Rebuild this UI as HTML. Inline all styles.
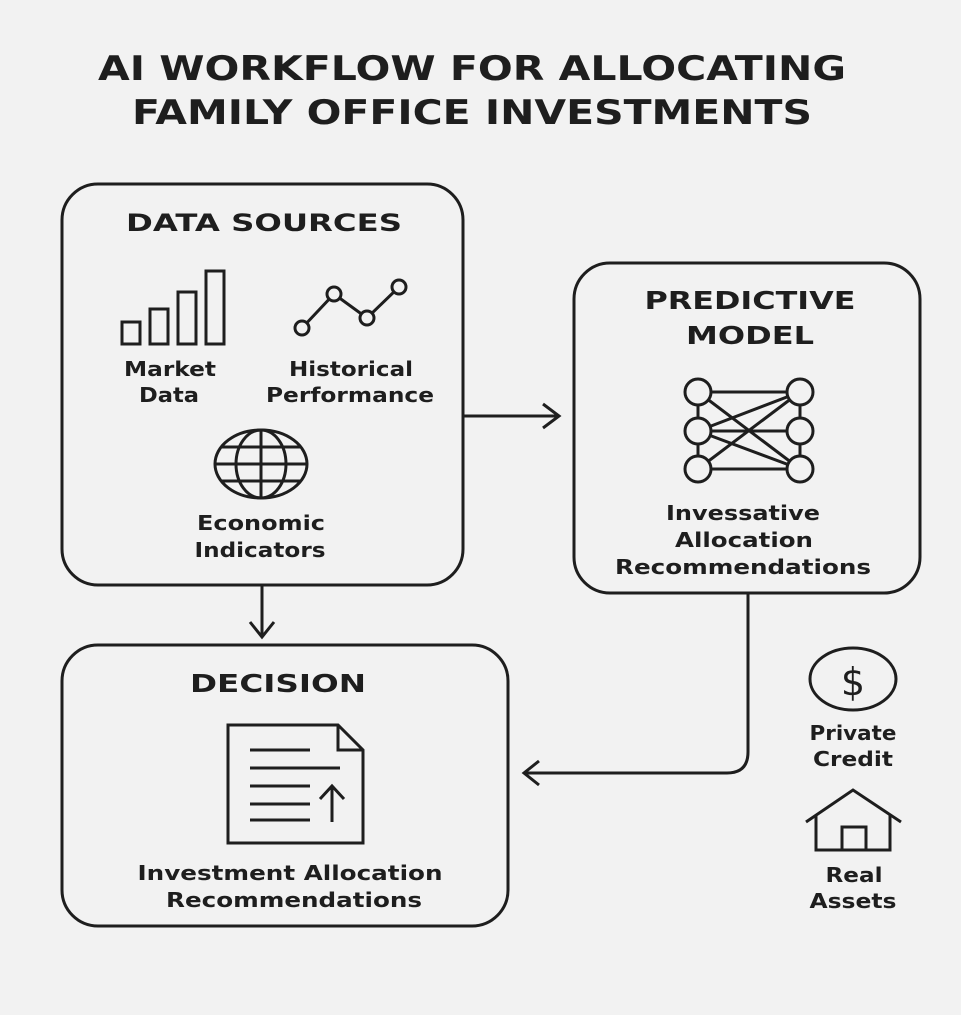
<!DOCTYPE html>
<html><head><meta charset="utf-8"><style>
html,body{margin:0;padding:0;background:#f2f2f2;}
svg{display:block;}
text{font-family:"DejaVu Sans","Liberation Sans",sans-serif;font-weight:bold;fill:#1e1e1e;text-anchor:middle;}
</style></head><body>
<svg width="961" height="1015" viewBox="0 0 961 1015" xmlns="http://www.w3.org/2000/svg">
<rect width="961" height="1015" fill="#f2f2f2"/>
<text x="472" y="80" font-size="34" textLength="748" lengthAdjust="spacingAndGlyphs">AI WORKFLOW FOR ALLOCATING</text>
<text x="472" y="124" font-size="34" textLength="680" lengthAdjust="spacingAndGlyphs">FAMILY OFFICE INVESTMENTS</text>

<g fill="none" stroke="#1e1e1e" stroke-width="3">
<rect x="62" y="184" width="401" height="401" rx="36"/>
<rect x="574" y="263" width="346" height="330" rx="36"/>
<rect x="62" y="645" width="446" height="281" rx="36"/>
<rect x="122" y="322" width="18" height="22"/>
<rect x="150" y="309" width="18" height="35"/>
<rect x="178" y="292" width="18" height="52"/>
<rect x="206" y="271" width="18" height="73"/>
<polyline points="302,328 334,294 367,318 399,287"/>
<g fill="#f2f2f2"><circle cx="302" cy="328" r="7"/><circle cx="334" cy="294" r="7"/><circle cx="367" cy="318" r="7"/><circle cx="399" cy="287" r="7"/></g>
<ellipse cx="261" cy="464" rx="46" ry="34"/>
<ellipse cx="261" cy="464" rx="25" ry="34"/>
<line x1="261" y1="430" x2="261" y2="498"/>
<line x1="215" y1="464" x2="307" y2="464"/>
<line x1="222" y1="447" x2="300" y2="447"/>
<line x1="222" y1="481" x2="300" y2="481"/>
<line x1="463" y1="416" x2="559" y2="416"/>
<polyline points="543,404 559,416 543,428"/>
<line x1="262" y1="585" x2="262" y2="637"/>
<polyline points="250,622 262,637 274,622"/>
<path d="M748,593 V752 Q748,773 727,773 H525"/>
<polyline points="539,761 524,773 539,785"/>
<line x1="698" y1="392" x2="698" y2="469"/>
<line x1="800" y1="392" x2="800" y2="469"/>
<line x1="698" y1="392" x2="800" y2="392"/>
<line x1="698" y1="431" x2="800" y2="431"/>
<line x1="698" y1="469" x2="800" y2="469"/>
<line x1="698" y1="392" x2="800" y2="469"/>
<line x1="698" y1="469" x2="800" y2="392"/>
<line x1="698" y1="431" x2="800" y2="392"/>
<line x1="698" y1="431" x2="800" y2="469"/>
<g fill="#f2f2f2">
<circle cx="698" cy="392" r="13"/><circle cx="698" cy="431" r="13"/><circle cx="698" cy="469" r="13"/>
<circle cx="800" cy="392" r="13"/><circle cx="800" cy="431" r="13"/><circle cx="800" cy="469" r="13"/>
</g>
<path d="M228,725 H338 L363,750 V843 H228 Z"/>
<polyline points="338,725 338,750 363,750"/>
<line x1="250" y1="750" x2="310" y2="750"/>
<line x1="250" y1="768" x2="340" y2="768"/>
<line x1="250" y1="786" x2="310" y2="786"/>
<line x1="250" y1="804" x2="310" y2="804"/>
<line x1="250" y1="820" x2="310" y2="820"/>
<line x1="332" y1="822" x2="332" y2="787"/>
<polyline points="320,799 332,786 344,799"/>
<ellipse cx="853" cy="679" rx="43" ry="31"/>
<polyline points="806,822 853,790 901,822"/>
<polyline points="816,815 816,850 890,850 890,815"/>
<rect x="842" y="827" width="24" height="23"/>
</g>
<text x="853" y="695" font-size="38" style="font-weight:normal">$</text>

<text x="264" y="231" font-size="24" textLength="276" lengthAdjust="spacingAndGlyphs">DATA SOURCES</text>
<text x="170" y="376" font-size="20" textLength="92" lengthAdjust="spacingAndGlyphs">Market</text>
<text x="169" y="402" font-size="20" textLength="60" lengthAdjust="spacingAndGlyphs">Data</text>
<text x="351" y="376" font-size="20" textLength="124" lengthAdjust="spacingAndGlyphs">Historical</text>
<text x="350" y="402" font-size="20" textLength="168" lengthAdjust="spacingAndGlyphs">Performance</text>
<text x="261" y="530" font-size="20" textLength="128" lengthAdjust="spacingAndGlyphs">Economic</text>
<text x="260" y="557" font-size="20" textLength="131" lengthAdjust="spacingAndGlyphs">Indicators</text>

<text x="750" y="309" font-size="25" textLength="211" lengthAdjust="spacingAndGlyphs">PREDICTIVE</text>
<text x="750" y="344" font-size="25" textLength="128" lengthAdjust="spacingAndGlyphs">MODEL</text>
<text x="743" y="520" font-size="20" textLength="154" lengthAdjust="spacingAndGlyphs">Invessative</text>
<text x="744" y="547" font-size="20" textLength="138" lengthAdjust="spacingAndGlyphs">Allocation</text>
<text x="743" y="574" font-size="20" textLength="256" lengthAdjust="spacingAndGlyphs">Recommendations</text>

<text x="278" y="692" font-size="25" textLength="176" lengthAdjust="spacingAndGlyphs">DECISION</text>
<text x="290" y="880" font-size="20" textLength="305" lengthAdjust="spacingAndGlyphs">Investment Allocation</text>
<text x="294" y="907" font-size="20" textLength="256" lengthAdjust="spacingAndGlyphs">Recommendations</text>

<text x="853" y="740" font-size="20" textLength="87" lengthAdjust="spacingAndGlyphs">Private</text>
<text x="853" y="766" font-size="20" textLength="80" lengthAdjust="spacingAndGlyphs">Credit</text>
<text x="854" y="882" font-size="20" textLength="57" lengthAdjust="spacingAndGlyphs">Real</text>
<text x="853" y="908" font-size="20" textLength="87" lengthAdjust="spacingAndGlyphs">Assets</text>
</svg>
</body></html>
